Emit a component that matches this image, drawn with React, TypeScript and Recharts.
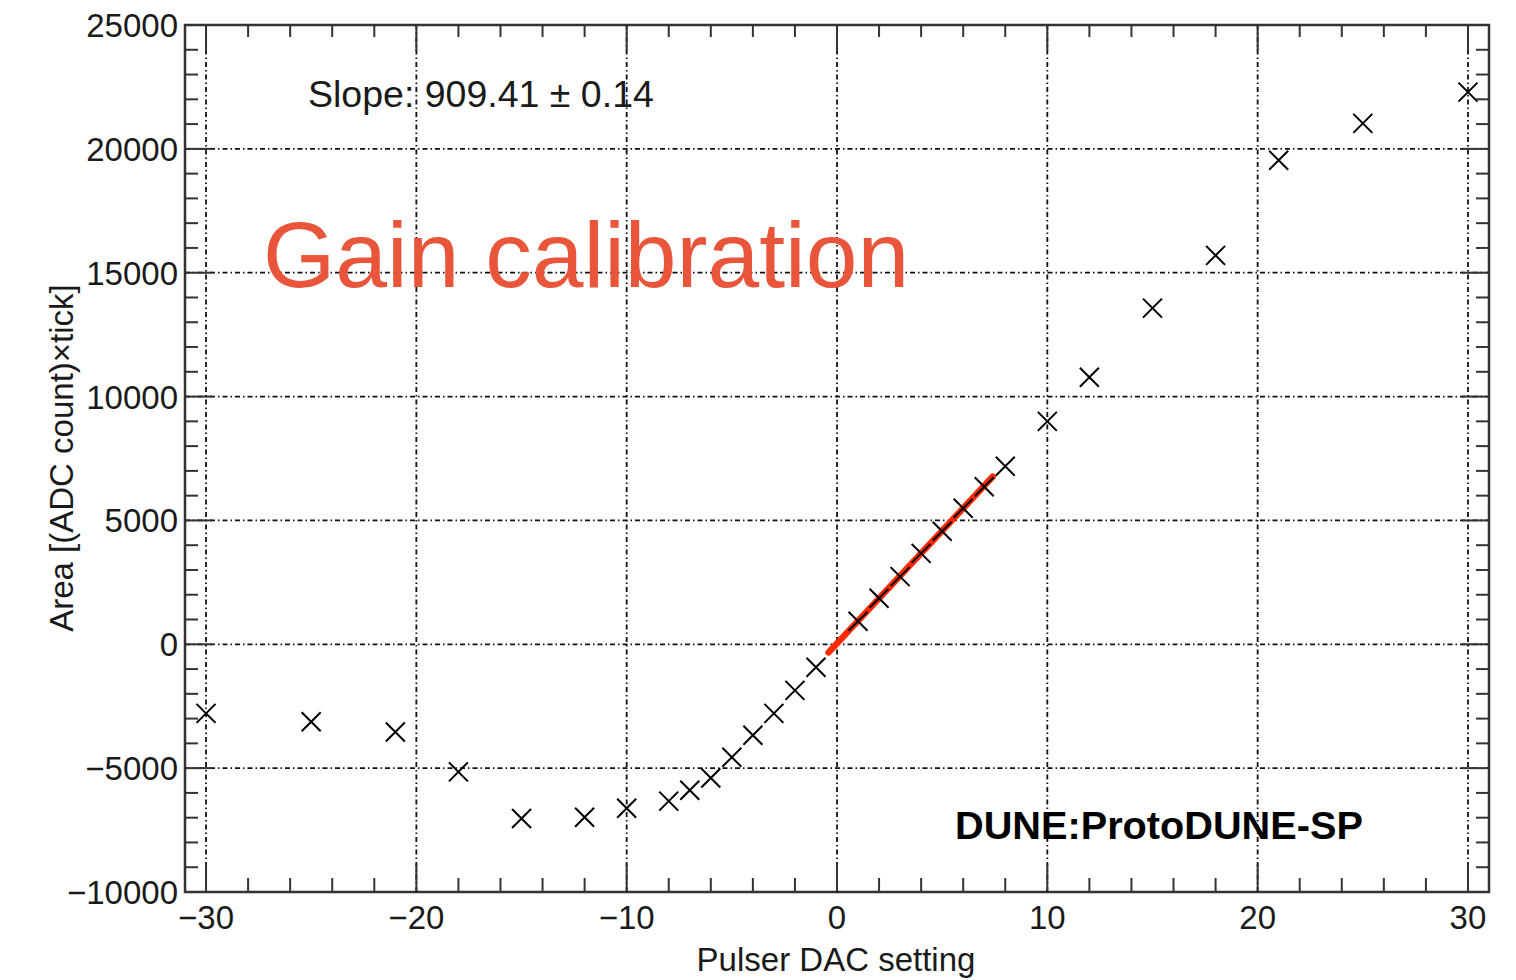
import React from "react";
import {
  ScatterChart,
  Scatter,
  XAxis,
  YAxis,
  ReferenceLine,
  ReferenceArea,
} from "recharts";

// Pulser scan: DAC setting vs. integrated pulse area
const DAC_SETTINGS = [
  -30, -25, -21, -18, -15, -12, -10, -8, -7, -6, -5, -4, -3, -2, -1,
  1, 2, 3, 4, 5, 6, 7, 8, 10, 12, 15, 18, 21, 25, 30,
];
const PULSE_AREAS = [
  -2790, -3130, -3540, -5150, -7030, -6980, -6620, -6330, -5890, -5400,
  -4560, -3670, -2790, -1860, -930,
  930, 1860, 2730, 3670, 4560, 5490, 6360, 7190, 9000, 10780, 13570,
  15700, 19540, 21030, 22290,
];

// Linear fit over the small-signal region
const FIT_SLOPE = 909.41;
const FIT_SLOPE_ERR = 0.14;
const FIT_INTERCEPT = 36;
const FIT_RANGE = [-0.4, 7.4];

// Axis ranges and ticks
const X_DOMAIN = [-31, 31];
const Y_DOMAIN = [-10000, 25000];
const X_TICKS = [
  -30, -28, -26, -24, -22, -20, -18, -16, -14, -12, -10, -8, -6, -4, -2, 0,
  2, 4, 6, 8, 10, 12, 14, 16, 18, 20, 22, 24, 26, 28, 30,
];
const Y_TICKS = [
  -10000, -9000, -8000, -7000, -6000, -5000, -4000, -3000, -2000, -1000, 0,
  1000, 2000, 3000, 4000, 5000, 6000, 7000, 8000, 9000, 10000, 11000, 12000,
  13000, 14000, 15000, 16000, 17000, 18000, 19000, 20000, 21000, 22000, 23000,
  24000, 25000,
];
const X_GRID = [-30, -20, -10, 0, 10, 20, 30];
const Y_GRID = [-5000, 0, 5000, 10000, 15000, 20000];

const X_MAJOR_STEP = 10;
const Y_MAJOR_STEP = 5000;

// Layout (axes take 1px each so that their ticks are drawn)
const WIDTH = 1516;
const HEIGHT = 980;
const MARGIN = { top: 25, right: 27, bottom: 87, left: 184 };
const AXIS_SIZE = 1;
const PLOT_W = WIDTH - MARGIN.left - MARGIN.right - AXIS_SIZE;
const PLOT_H = HEIGHT - MARGIN.top - MARGIN.bottom - AXIS_SIZE;

const FONT = "'Liberation Sans', Arial, Helvetica, sans-serif";
const INK = "#1a1a1a";
const AXIS_COLOR = "#333";
const GRID_COLOR = "#111";
const GRID_DASH = "5 3 1.5 3";
const MAJOR_LEN = 27;
const MINOR_LEN = 13;

const fmt = (v: number) => (v < 0 ? "\u2212" + Math.abs(v) : String(v));

const points = DAC_SETTINGS.map((x, i) => ({ x, y: PULSE_AREAS[i] }));
const fitLine = FIT_RANGE.map((x) => ({ x, y: FIT_SLOPE * x + FIT_INTERCEPT }));

function XTick(props: any) {
  const { x, payload } = props;
  const y = props.y - AXIS_SIZE;
  const v = payload.value as number;
  const major = v % X_MAJOR_STEP === 0;
  const len = major ? MAJOR_LEN : MINOR_LEN;
  const top = y - PLOT_H;
  return (
    <g>
      <line x1={x} x2={x} y1={y} y2={y - len} stroke={AXIS_COLOR} strokeWidth={2} />
      <line x1={x} x2={x} y1={top} y2={top + len} stroke={AXIS_COLOR} strokeWidth={2} />
      {major && (
        <text
          x={x}
          y={y + 38}
          textAnchor="middle"
          fontFamily={FONT}
          fontSize={33}
          fill={INK}
        >
          {fmt(v)}
        </text>
      )}
    </g>
  );
}

function YTick(props: any) {
  const { x, y, payload } = props;
  const v = payload.value as number;
  const major = v % Y_MAJOR_STEP === 0;
  const len = major ? MAJOR_LEN : MINOR_LEN;
  const right = x + PLOT_W;
  return (
    <g>
      <line x1={x} x2={x + len} y1={y} y2={y} stroke={AXIS_COLOR} strokeWidth={2} />
      <line x1={right} x2={right - len} y1={y} y2={y} stroke={AXIS_COLOR} strokeWidth={2} />
      {major && (
        <text
          x={x - 7}
          y={y + 12}
          textAnchor="end"
          fontFamily={FONT}
          fontSize={33}
          fill={INK}
        >
          {fmt(v)}
        </text>
      )}
    </g>
  );
}

function CrossMarker(props: any) {
  const { cx, cy } = props;
  const r = 9.5;
  return (
    <path
      d={`M${cx - r},${cy - r}L${cx + r},${cy + r}M${cx - r},${cy + r}L${cx + r},${cy - r}`}
      stroke="#000"
      strokeWidth={2}
      fill="none"
    />
  );
}

export default function App() {
  return (
    <div
      style={{
        position: "absolute",
        left: 0,
        top: 0,
        width: WIDTH,
        height: HEIGHT,
        background: "#fff",
      }}
    >
      <ScatterChart width={WIDTH} height={HEIGHT} margin={MARGIN}>
        <XAxis
          type="number"
          dataKey="x"
          domain={X_DOMAIN}
          ticks={X_TICKS}
          interval={0}
          allowDataOverflow
          height={AXIS_SIZE}
          axisLine={false}
          tickLine={false}
          tickSize={0}
          tickMargin={0}
          tick={(p: any) => <XTick {...p} />}
        />
        <YAxis
          type="number"
          dataKey="y"
          domain={Y_DOMAIN}
          ticks={Y_TICKS}
          interval={0}
          allowDataOverflow
          width={AXIS_SIZE}
          axisLine={false}
          tickLine={false}
          tickSize={0}
          tickMargin={0}
          tick={(p: any) => <YTick {...p} />}
        />
        {X_GRID.map((v) => (
          <ReferenceLine
            key={"gx" + v}
            x={v}
            stroke={GRID_COLOR}
            strokeWidth={1.8}
            strokeDasharray={GRID_DASH}
          />
        ))}
        {Y_GRID.map((v) => (
          <ReferenceLine
            key={"gy" + v}
            y={v}
            stroke={GRID_COLOR}
            strokeWidth={1.8}
            strokeDasharray={GRID_DASH}
          />
        ))}
        <ReferenceArea
          x1={X_DOMAIN[0]}
          x2={X_DOMAIN[1]}
          y1={Y_DOMAIN[0]}
          y2={Y_DOMAIN[1]}
          fill="none"
          fillOpacity={0}
          stroke={AXIS_COLOR}
          strokeWidth={2.5}
          ifOverflow="visible"
        />
        <Scatter
          data={points}
          isAnimationActive={false}
          shape={(p: any) => <CrossMarker {...p} />}
        />
        <ReferenceLine
          segment={fitLine}
          stroke="#ff2a00"
          strokeWidth={6.5}
          strokeLinecap="round"
          ifOverflow="visible"
        />
      </ScatterChart>
      <svg
        width={WIDTH}
        height={HEIGHT}
        style={{ position: "absolute", left: 0, top: 0, pointerEvents: "none" }}
        fontFamily={FONT}
      >
        <text x={308} y={107} fontSize={37.5} fill={INK}>
          {`Slope: ${FIT_SLOPE.toFixed(2)} \u00b1 ${FIT_SLOPE_ERR.toFixed(2)}`}
        </text>
        <text x={263} y={287} fontSize={93} fill="#e8553a">
          Gain calibration
        </text>
        <text x={955} y={839} fontSize={39.7} fontWeight="bold" fill="#000">
          DUNE:ProtoDUNE-SP
        </text>
        <text x={836} y={971} fontSize={33} fill={INK} textAnchor="middle">
          Pulser DAC setting
        </text>
        <text
          x={73}
          y={458}
          fontSize={33}
          fill={INK}
          textAnchor="middle"
          transform="rotate(-90 73 458)"
        >
          {"Area [(ADC count)\u00d7tick]"}
        </text>
      </svg>
    </div>
  );
}
